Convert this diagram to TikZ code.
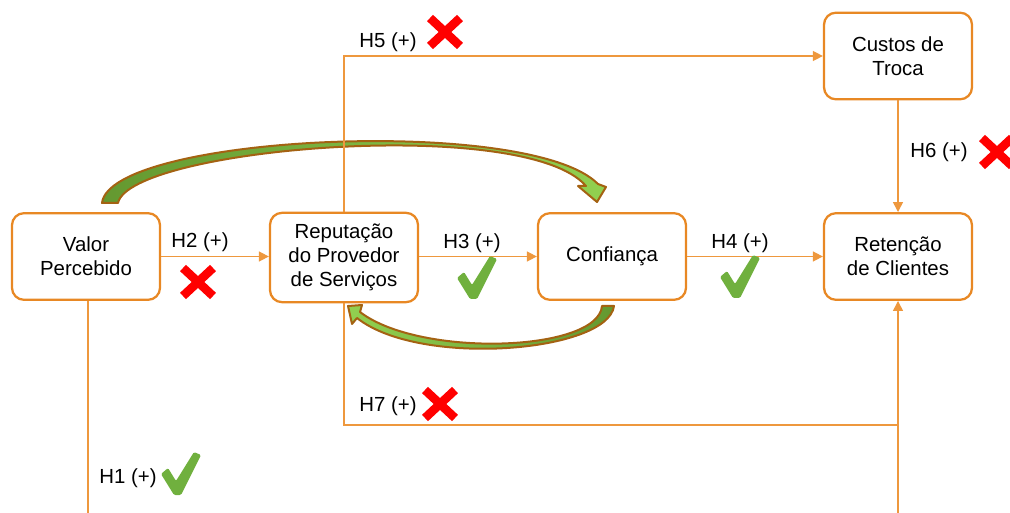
\documentclass[tikz,border=0pt]{standalone}
\usepackage{fontspec}
\setmainfont{Liberation Sans}
\usetikzlibrary{arrows.meta}
\definecolor{boxor}{RGB}{232,136,36}
\definecolor{lineor}{RGB}{238,152,62}
\definecolor{arrbrown}{RGB}{164,98,18}
\definecolor{gdark}{RGB}{100,152,48}
\definecolor{glight}{RGB}{146,208,80}
\definecolor{chkgreen}{RGB}{112,176,62}
\definecolor{xred}{RGB}{255,0,0}
\begin{document}
\begin{tikzpicture}[x=0.75pt,y=-0.75pt,
  box/.style={draw=boxor,line width=1.7pt,rounded corners=9pt,fill=white,
    minimum width=111pt,minimum height=65pt,align=center,
    font=\fontsize{15.3}{18}\selectfont,inner sep=2pt},
  conn/.style={draw=lineor,line width=1.1pt,-{Triangle[width=7.5pt,length=7.5pt]}},
  plainline/.style={draw=lineor,line width=1.1pt},
  lbl/.style={font=\fontsize{15.3}{18}\selectfont,inner sep=0pt},
  curvarrow/.style={draw=arrbrown,line width=1.5pt,line join=round},
  chk/.pic={\fill[chkgreen,rounded corners=1pt] (-16,-20) -- (-9,-26) -- (-1,-13) -- (17,-42) -- (24,-39) -- (4,1) -- (-3,1) -- cycle;},
  xmark/.pic={\draw[xred,line width=6.5pt] (-15,-14) -- (15,14) (-15,14) -- (15,-14);}
]
\useasboundingbox (0,0) rectangle (1010,513);

% curved arrows
\shade[curvarrow,left color=gdark,right color=glight]
  (102,203) .. controls (110,135) and (530,115) .. (598,184)
  -- (606,187) -- (597,202) -- (578,186) -- (586,186)
  .. controls (525,115) and (130,148) .. (118,203) -- cycle;
\shade[curvarrow,left color=glight,right color=gdark]
  (614,306) .. controls (608,352) and (420,368) .. (357,318)
  -- (352,324) -- (348,306) -- (362,305) -- (360,312)
  .. controls (420,358) and (598,352) .. (602,306) -- cycle;

% nodes
\node[box] (valor) at (86,256.5) {Valor\\Percebido};
\node[box,minimum height=67pt] (rep) at (344,257.5) {Reputação\\do Provedor\\de Serviços};
\node[box] (conf) at (612,256.5) {Confiança};
\node[box] (ret) at (898,256.5) {Retenção\\de Clientes};
\node[box] (cust) at (898,56) {Custos de\\Troca};

\coordinate (j7) at (898,425);
\coordinate (b1) at (88,513);
\coordinate (b2) at (898,513);

% connectors
\draw[conn] (valor.east) -- (valor.east -| rep.west);
\draw[conn] (rep.east |- conf.west) -- (conf.west);
\draw[conn] (conf.east) -- (ret.west);
\draw[conn] (rep.north) |- (cust.west);
\draw[conn] (cust.south) -- (ret.north);
\draw[plainline] (rep.south) |- (j7);
\draw[conn] (b2) -- (ret.south);
\draw[plainline] (valor.south -| b1) -- (b1);

% labels
\node[lbl] (l5) at (388,42) {H5 (+)};
\node[lbl] (l2) at (200,242) {H2 (+)};
\node[lbl] (l3) at (472,243) {H3 (+)};
\node[lbl] (l4) at (740,243) {H4 (+)};
\node[lbl] (l6) at (939,152) {H6 (+)};
\node[lbl] (l7) at (388,406) {H7 (+)};
\node[lbl] (l1) at (128,478) {H1 (+)};

% marks
\pic at (445,32) {xmark};
\pic at (198,282) {xmark};
\pic at (997,152) {xmark};
\pic at (440,404) {xmark};
\pic at (473,298) {chk};
\pic at (736,297) {chk};
\pic at (177,494) {chk};
\end{tikzpicture}
\end{document}
